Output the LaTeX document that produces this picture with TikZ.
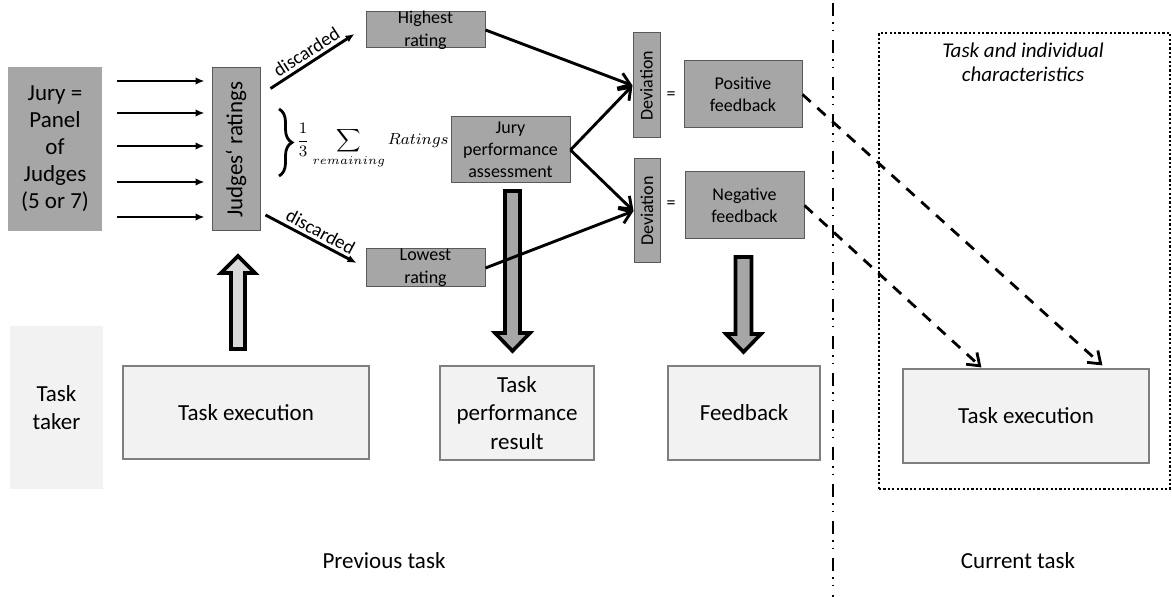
\documentclass[tikz,border=0pt]{standalone}
\usepackage{amsmath}
\usepackage{fontspec}
\setmainfont{Carlito}
\usetikzlibrary{arrows.meta,calc,decorations.pathreplacing}
\definecolor{boxgray}{HTML}{A6A6A6}
\definecolor{boxedge}{HTML}{595959}
\definecolor{lightfill}{HTML}{F2F2F2}
\definecolor{lightedge}{HTML}{7F7F7F}
\definecolor{arrowlight}{HTML}{D9D9D9}
\begin{document}
\begin{tikzpicture}[x=0.5pt,y=-0.5pt,
  mainfont/.style={font=\fontsize{11.5}{14}\selectfont},
  smallfont/.style={font=\fontsize{9}{11}\selectfont},
  graybox/.style={draw=boxedge, line width=0.5pt, fill=boxgray, align=center, inner sep=1pt, smallfont},
  litebox/.style={draw=lightedge, line width=0.6pt, fill=lightfill, align=center, inner sep=2pt, font=\fontsize{11.5}{14.25}\selectfont},
  smallarrow/.style={line width=1.45pt, -{Latex[length=4.5pt,width=3.8pt]}},
  barbarrow/.style={line width=1.45pt, -{Straight Barb[length=5.5pt,width=8pt,line width=1.45pt]}},
  dasharrow/.style={line width=1.4pt, dash pattern=on 5.5pt off 4.5pt, -{Straight Barb[length=5.5pt,width=8pt,line width=1.4pt]}},
  blockarrow/.style={line width=1.8pt, draw=black, line join=miter},
  divider/.style={line width=0.75pt, dash pattern=on 6.5pt off 3pt on 0.8pt off 3pt on 0.8pt off 4.4pt},
  framebox/.style={draw, line width=1.35pt, dash pattern=on 1.1pt off 1.1pt},
]
\useasboundingbox (0,0) rectangle (1172,597);

% ---- left block ----
\node[fill=boxgray, minimum width=47pt, minimum height=82pt, align=center, inner sep=1pt,
      font=\fontsize{11.5}{13.5}\selectfont] (jury) at (55,149) {Jury =\\Panel\\of\\Judges\\(5 or 7)};
\node[graybox, minimum width=24pt, minimum height=81.5pt,
      label={[rotate=90, font=\fontsize{11.5}{14}\selectfont]center:Judges‘ ratings}] (judges) at (236,149.5) {};

\foreach \yy in {81,113,146,182,217}
  \draw[smallarrow, shorten <=7.5pt, shorten >=3.5pt] (jury.east |- 0,\yy) -- (judges.west |- 0,\yy);

\node[graybox, minimum width=59.5pt, minimum height=18pt,
      label={[align=center, font=\fontsize{9}{11.5}\selectfont]center:Highest\\rating}] (high) at (425.5,30) {};
\node[graybox, minimum width=59.5pt, minimum height=19pt,
      label={[align=center, font=\fontsize{9}{11.5}\selectfont]center:Lowest\\rating}] (low) at (425.5,268) {};

\draw[smallarrow] ($(judges.east)+(10,-61)$) -- node[midway, above, sloped, inner sep=1.5pt, font=\fontsize{9.5}{11}\selectfont] (d1) {discarded} ($(high.west)+(-11,4)$);
\draw[smallarrow] ($(judges.east)+(5,65.5)$) -- node[pos=0.55, above, sloped, inner sep=1.5pt, font=\fontsize{9.5}{11}\selectfont] (d2) {discarded} ($(low.west)+(-9,-5)$);

% brace and formula
\coordinate (bracetop) at (279,109);
\coordinate (bracebot) at (279,176);
\draw[decorate, decoration={brace, amplitude=6.5pt}, line width=1.4pt] (bracetop) -- (bracebot);
\node[anchor=base west, inner sep=0pt, font=\fontsize{8.5}{10}\selectfont] (formula) at (296,145)
  {$\displaystyle\frac{1}{3}\sum_{remaining} Ratings$};

\node[graybox, minimum width=59.5pt, minimum height=33pt, font=\fontsize{9}{11}\selectfont] (jpa) at (510.5,150) {Jury\\performance\\assessment};

% deviations
\node[graybox, minimum width=13.5pt, minimum height=52.5pt,
      label={[rotate=90, smallfont]center:Deviation}] (dev1) at (646.5,85.5) {};
\node[graybox, minimum width=13pt, minimum height=52pt,
      label={[rotate=90, smallfont]center:Deviation}] (dev2) at (647,211) {};
\node[smallfont, inner sep=0pt] (eq1) at (671,96) {=};
\node[smallfont, inner sep=0pt] (eq2) at (671,205) {=};
\node[graybox, minimum width=59pt, minimum height=33.5pt] (pos) at (743,94.5) {Positive\\feedback};
\node[graybox, minimum width=59.5pt, minimum height=33.5pt] (neg) at (744.5,205.5) {Negative\\feedback};

% ---- bottom row ----
\node[fill=lightfill, minimum width=46.5pt, minimum height=81.5pt, align=center,
      font=\fontsize{11.5}{14}\selectfont] (taker) at (56.5,407.5) {Task\\taker};
\node[litebox, minimum width=123pt, minimum height=46.5pt] (exec1) at (246,412.5) {Task execution};
\node[litebox, minimum width=77pt, minimum height=47pt] (tpr) at (517,413) {Task\\performance\\result};
\node[litebox, minimum width=76pt, minimum height=47pt] (fb) at (744,413) {Feedback};

% block arrows
\draw[blockarrow, fill=arrowlight] (231,349) -- (245,349) -- (245,273) -- (255,273) -- (238,256)
   -- (221,273) -- (231,273) -- cycle;
\draw[blockarrow, fill=boxgray] (505,191) -- (520,191) -- (520,333) -- (530,333) -- (512.5,351)
   -- (495,333) -- (505,333) -- cycle;
\draw[blockarrow, fill=boxgray] (735.5,257) -- (751.5,257) -- (751.5,334) -- (761,334) -- (743.5,352)
   -- (726,334) -- (735.5,334) -- cycle;

% connectors to deviations
\draw[barbarrow] (high.east) -- (dev1.west);
\draw[barbarrow] (jpa.east) -- (dev1.west);
\draw[barbarrow] (jpa.east) -- (dev2.west);
\draw[barbarrow] (low.east) -- (dev2.west);

% divider
\coordinate (divtop) at (833,3);
\coordinate (divbot) at (833,597);
\draw[divider] (divtop) -- (divbot);

% ---- current task ----
\node[framebox, minimum width=145.5pt, minimum height=228pt] (frame) at (1024.5,261) {};
\node[font=\itshape\fontsize{10.5}{12}\selectfont, align=center] (tic) at (1023,62) {Task and individual\\characteristics};
\node[litebox, minimum width=123pt, minimum height=47pt] (exec2) at (1026,416) {Task execution};

\draw[dasharrow] (pos.east) -- ($(exec2.north west)+(200,-3)$);
\draw[dasharrow] (neg.east) -- ($(exec2.north west)+(79,-1)$);

% captions
\node[mainfont] (prev) at (384,561) {Previous task};
\node[mainfont] (cur) at (1018,561) {Current task};
\end{tikzpicture}
\end{document}
